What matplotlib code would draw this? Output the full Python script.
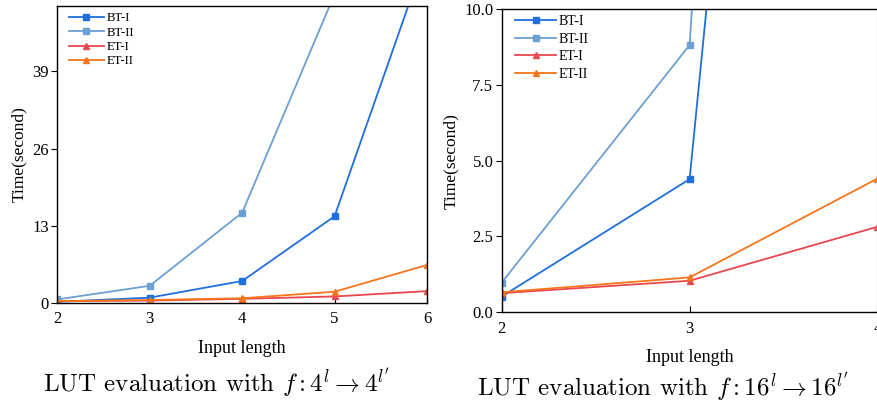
import matplotlib
matplotlib.use("Agg")
import matplotlib.pyplot as plt

plt.rcParams['font.family'] = ['Liberation Serif', 'DejaVu Serif']
plt.rcParams['mathtext.fontset'] = 'cm'
plt.rcParams['axes.unicode_minus'] = False

# ---- data ----
x_left = [2, 3, 4, 5, 6]
bt1_left = [0.2, 0.9, 3.7, 14.6, 59.0]
bt2_left = [0.6, 2.9, 15.2, 52.0, 200.0]
et1_left = [0.3, 0.4, 0.7, 1.1, 2.0]
et2_left = [0.3, 0.5, 0.8, 1.9, 6.4]
yticks_left = [0, 13, 26, 39]

x_right = [2, 3, 4]
bt1_right = [0.52, 4.39, 67.0]
bt2_right = [0.98, 8.81, 105.0]
et1_right = [0.63, 1.04, 2.82]
et2_right = [0.66, 1.15, 4.41]
yticks_right = [0.0, 2.5, 5.0, 7.5, 10.0]

labels = ['BT-I', 'BT-II', 'ET-I', 'ET-II']
colors = ['#1f6fdc', '#6c9fd2', '#e8474f', '#f3761b']
markers = ['s', 's', '^', '^']

caption_left = r"LUT evaluation with $f : 4^{l} \rightarrow 4^{l'}$"
caption_right = r"LUT evaluation with $f : 16^{l} \rightarrow 16^{l'}$"

fig = plt.figure(figsize=(8.78, 4.05), dpi=100)
W, H = 878.0, 405.0

def axes_px(x0, x1, ytop, ybot):
    return fig.add_axes([x0 / W, (H - ybot) / H, (x1 - x0) / W, (ybot - ytop) / H])

ax1 = axes_px(57.3, 427.0, 6.0, 303.0)
ax2 = axes_px(501.7, 877.5, 9.0, 312.3)

for ax, xs, series in [
    (ax1, x_left, [bt1_left, bt2_left, et1_left, et2_left]),
    (ax2, x_right, [bt1_right, bt2_right, et1_right, et2_right]),
]:
    for s, lab, c, m in zip(series, labels, colors, markers):
        ax.plot(xs, s, color=c, marker=m, markersize=5, linewidth=1.3,
                label=lab, clip_on=True)
    for sp in ax.spines.values():
        sp.set_linewidth(1.0)
    ax.tick_params(axis='x', direction='in', length=4, labelsize=12, pad=6)
    ax.tick_params(axis='y', direction='out', length=4, labelsize=12, pad=2)

ax1.set_xlim(2, 6)
ax1.set_ylim(0, 50)
ax1.set_xticks(x_left)
ax1.set_yticks(yticks_left)
ax1.set_yticklabels([str(v) for v in yticks_left])
ax1.set_ylabel('Time(second)', fontsize=12.5, labelpad=4)
ax1.set_xlabel('Input length', fontsize=13, labelpad=9)
ax1.legend(loc='upper left', fontsize=9.2, frameon=False, handlelength=2.7,
           handletextpad=0.2, labelspacing=0.18, borderaxespad=0.1,
           bbox_to_anchor=(0.015, 1.0))

ax2.set_xlim(2, 4)
ax2.set_ylim(0, 10)
ax2.set_xticks(x_right)
ax2.set_yticks(yticks_right)
ax2.set_yticklabels(['%.1f' % v for v in yticks_right])
ax2.spines['right'].set_color('#dddddd')
ax2.set_ylabel('Time(second)', fontsize=12.5, labelpad=4)
ax2.set_xlabel('Input length', fontsize=13, labelpad=9)
ax2.legend(loc='upper left', fontsize=10, frameon=False, handlelength=2.9,
           handletextpad=0.2, labelspacing=0.32, borderaxespad=0.05,
           bbox_to_anchor=(0.02, 1.0))

fig.text(217 / W, 1 - 383 / H, caption_left,
         fontsize=18, family='cmr10', ha='center', va='center')
fig.text(663 / W, 1 - 387 / H, caption_right,
         fontsize=18, family='cmr10', ha='center', va='center')

fig.savefig('out.png', dpi=100)
